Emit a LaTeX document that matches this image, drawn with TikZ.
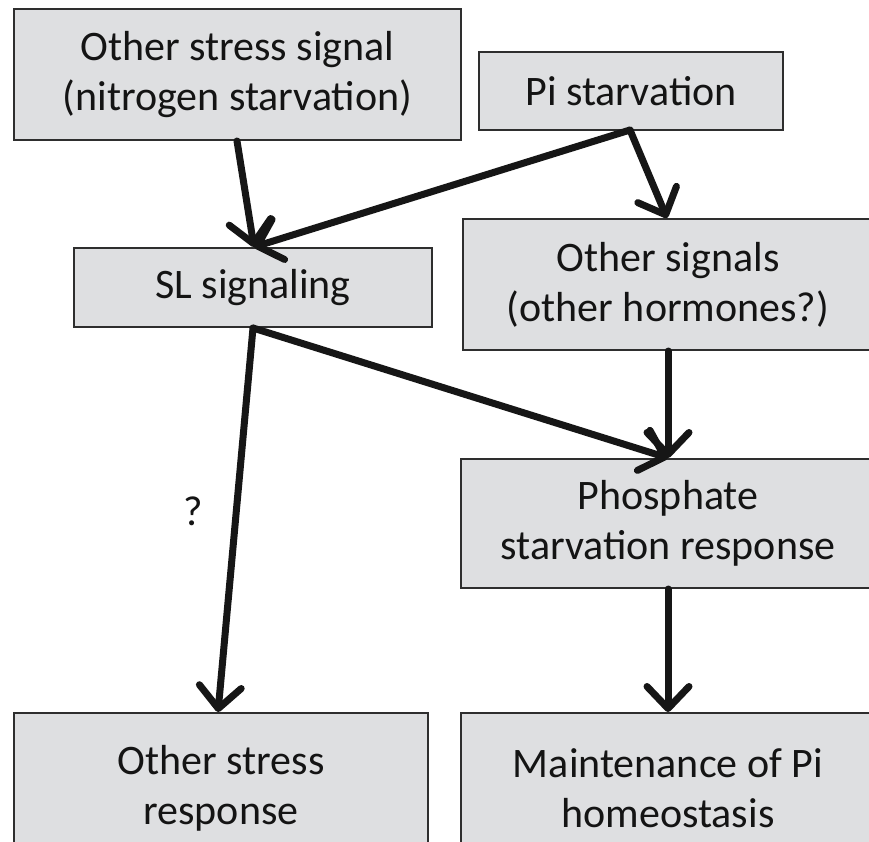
\documentclass[tikz,border=0pt]{standalone}
\usepackage{fontspec}
\setmainfont{Carlito}
\usetikzlibrary{arrows.meta}
\definecolor{boxfill}{HTML}{DEDFE1}
\definecolor{boxline}{HTML}{2E2E2E}
\definecolor{arrowcol}{HTML}{161616}
\tikzset{
  flowbox/.style={draw=boxline, line width=2.6pt, fill=boxfill, rectangle,
    inner sep=0pt, align=center, text=black!92,
    font=\fontsize{42}{50}\selectfont},
  flowarrow/.style={draw=arrowcol, line width=7pt, line cap=round,
    -{Straight Barb[length=22pt, width=42pt, line cap=round, line join=round]}},
}
\begin{document}
\begin{tikzpicture}[x=1pt,y=-1pt]
\useasboundingbox (0,0) rectangle (869,841);
\clip (0,0) rectangle (869,841);
\fill[white] (0,0) rectangle (869,841);
\node[flowbox, minimum width=447pt, minimum height=131pt] (other) at (237.5,74.5)
  {Other stress signal\\(nitrogen starvation)};
\node[flowbox, minimum width=304pt, minimum height=78pt] (pi) at (631,91)
  {Pi starvation};
\node[flowbox, minimum width=358pt, minimum height=79pt] (sl) at (253,287.5)
  {SL signaling};
\node[flowbox, minimum width=410pt, minimum height=131pt] (os) at (668,284.5)
  {Other signals\\(other hormones?)};
\node[flowbox, minimum width=414pt, minimum height=129pt] (psr) at (668,523.5)
  {Phosphate\\starvation response};
\node[flowbox, minimum width=414pt, minimum height=150pt] (osr) at (221,788)
  {Other stress\\response};
\node[flowbox, minimum width=414pt, minimum height=150pt] (mph) at (668,788)
  {Maintenance of Pi\\homeostasis};
\node[font=\fontsize{42}{50}\selectfont, text=black!92] (q) at (193,511) {?};

\coordinate (a1s) at (237,141);
\coordinate (slin) at (254,247);
\coordinate (pis) at (630,130);
\coordinate (osin) at (667,218);
\coordinate (slout) at (253,328);
\coordinate (osrin) at (218,712);
\coordinate (psrin) at (668,458);
\coordinate (osout) at (668,351);
\coordinate (psrout) at (668,589);
\coordinate (mphin) at (668,712);

\draw[flowarrow] (a1s) -- (slin);
\draw[flowarrow] (pis) -- (slin);
\draw[flowarrow] (pis) -- (osin);
\draw[flowarrow] (slout) -- (osrin);
\draw[flowarrow] (slout) -- (psrin);
\draw[flowarrow] (osout) -- (psrin);
\draw[flowarrow] (psrout) -- (mphin);
\end{tikzpicture}
\end{document}
